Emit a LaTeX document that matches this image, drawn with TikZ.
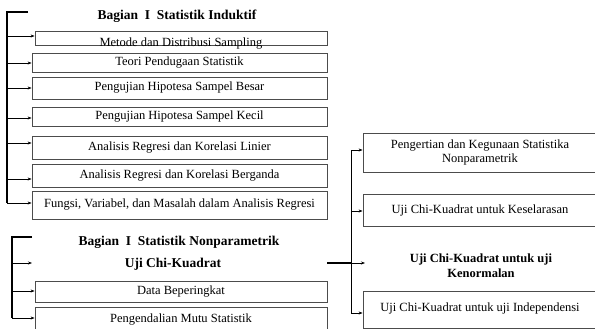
\documentclass[tikz,border=0pt]{standalone}
\usepackage{fontspec}
\setmainfont{Liberation Serif}
\usetikzlibrary{arrows.meta}
\begin{document}
\begin{tikzpicture}[x=1pt,y=1pt,
  box/.style={draw=black!70, line width=0.8pt, inner sep=0pt, font=\fontsize{12.5}{14}\selectfont, align=center},
  ttl/.style={font=\bfseries\fontsize{13.5}{15}\selectfont, inner sep=0pt, align=center},
  brk/.style={line width=1.6pt, black},
  arr/.style={line width=0.8pt, -{Stealth[length=4pt,width=3pt]}},
  thk/.style={line width=1.6pt}]
\useasboundingbox (0,0) rectangle (595,-329);
% top section
\node[ttl] (t1) at (177,-16) {Bagian\ \ I\ \ Statistik Induktif};
\node[box, minimum width=292, minimum height=14] (b1) at (181,-38) {\smash{\raisebox{-9pt}{Metode dan Distribusi Sampling}}};
\node[box, minimum width=295, minimum height=19] (b2) at (179.5,-62.5) {Teori Pendugaan Statistik};
\node[box, minimum width=295, minimum height=22] (b3) at (179.5,-88) {Pengujian Hipotesa Sampel Besar};
\node[box, minimum width=295, minimum height=19] (b4) at (179.5,-116.5) {Pengujian Hipotesa Sampel Kecil};
\node[box, minimum width=295, minimum height=23] (b5) at (179.5,-147.5) {Analisis Regresi dan Korelasi Linier};
\node[box, minimum width=295, minimum height=23] (b6) at (179.5,-175.5) {Analisis Regresi dan Korelasi Berganda};
\node[box, minimum width=295, minimum height=28] (b7) at (179.5,-205) {\raisebox{2pt}{Fungsi, Variabel, dan Masalah dalam Analisis Regresi}};
\coordinate (TA) at (28,-12);
\coordinate (TB) at (7,-12);
\coordinate (L1) at (7,-36);
\coordinate (L2) at (7,-63);
\coordinate (L3) at (7,-88);
\coordinate (L4) at (7,-118);
\coordinate (L5) at (7,-143);
\coordinate (L6) at (7,-179);
\coordinate (L7) at (7,-203);
\draw[brk] (TA) -- (TB) -- (L7);
\foreach \i in {1,...,7} \draw[arr] (L\i) -- (L\i -| b\i.west);
% bottom section
\node[ttl] (t2) at (179,-242) {Bagian\ \ I\ \ Statistik Nonparametrik};
\node[ttl] (c0) at (173,-264) {Uji Chi-Kuadrat};
\node[box, minimum width=292, minimum height=21] (d1) at (181,-291.5) {Data Beperingkat};
\node[box, minimum width=292, minimum height=26] (d2) at (181,-320) {Pengendalian Mutu Statistik};
\coordinate (BA) at (32,-237);
\coordinate (BB) at (12,-237);
\coordinate (M0) at (12,-263);
\coordinate (M1) at (12,-291);
\coordinate (M2) at (12,-318);
\coordinate (C0) at (32,-263);
\draw[brk] (BA) -- (BB) -- (M2);
\draw[arr] (M0) -- (C0);
\draw[arr] (M1) -- (M1 -| d1.west);
\draw[arr] (M2) -- (M2 -| d2.west);
% right section
\node[box, minimum width=234, minimum height=39] (r1) at (480,-152.5) {Pengertian dan Kegunaan Statistika\\Nonparametrik};
\node[box, minimum width=234, minimum height=32] (r2) at (480,-210) {Uji Chi-Kuadrat untuk Keselarasan};
\node[ttl, font=\bfseries\fontsize{12.5}{15}\selectfont] (r3) at (481,-266) {Uji Chi-Kuadrat untuk uji\\Kenormalan};
\node[box, minimum width=234, minimum height=37] (r4) at (480,-309.5) {\smash{\raisebox{-2pt}{Uji Chi-Kuadrat untuk uji Independensi}}};
\coordinate (J0) at (327,-263);
\coordinate (J1) at (351,-263);
\coordinate (V1) at (351,-150);
\coordinate (V2) at (351,-211);
\coordinate (V4) at (351,-313);
\coordinate (K3) at (365,-263);
\draw[thk] (J0) -- (J1);
\draw[line width=0.9pt] (V1) -- (V4);
\draw[arr] (V1) -- (V1 -| r1.west);
\draw[arr] (V2) -- (V2 -| r2.west);
\draw[arr] (J1) -- (K3);
\draw[arr] (V4) -- (V4 -| r4.west);
\end{tikzpicture}
\end{document}
